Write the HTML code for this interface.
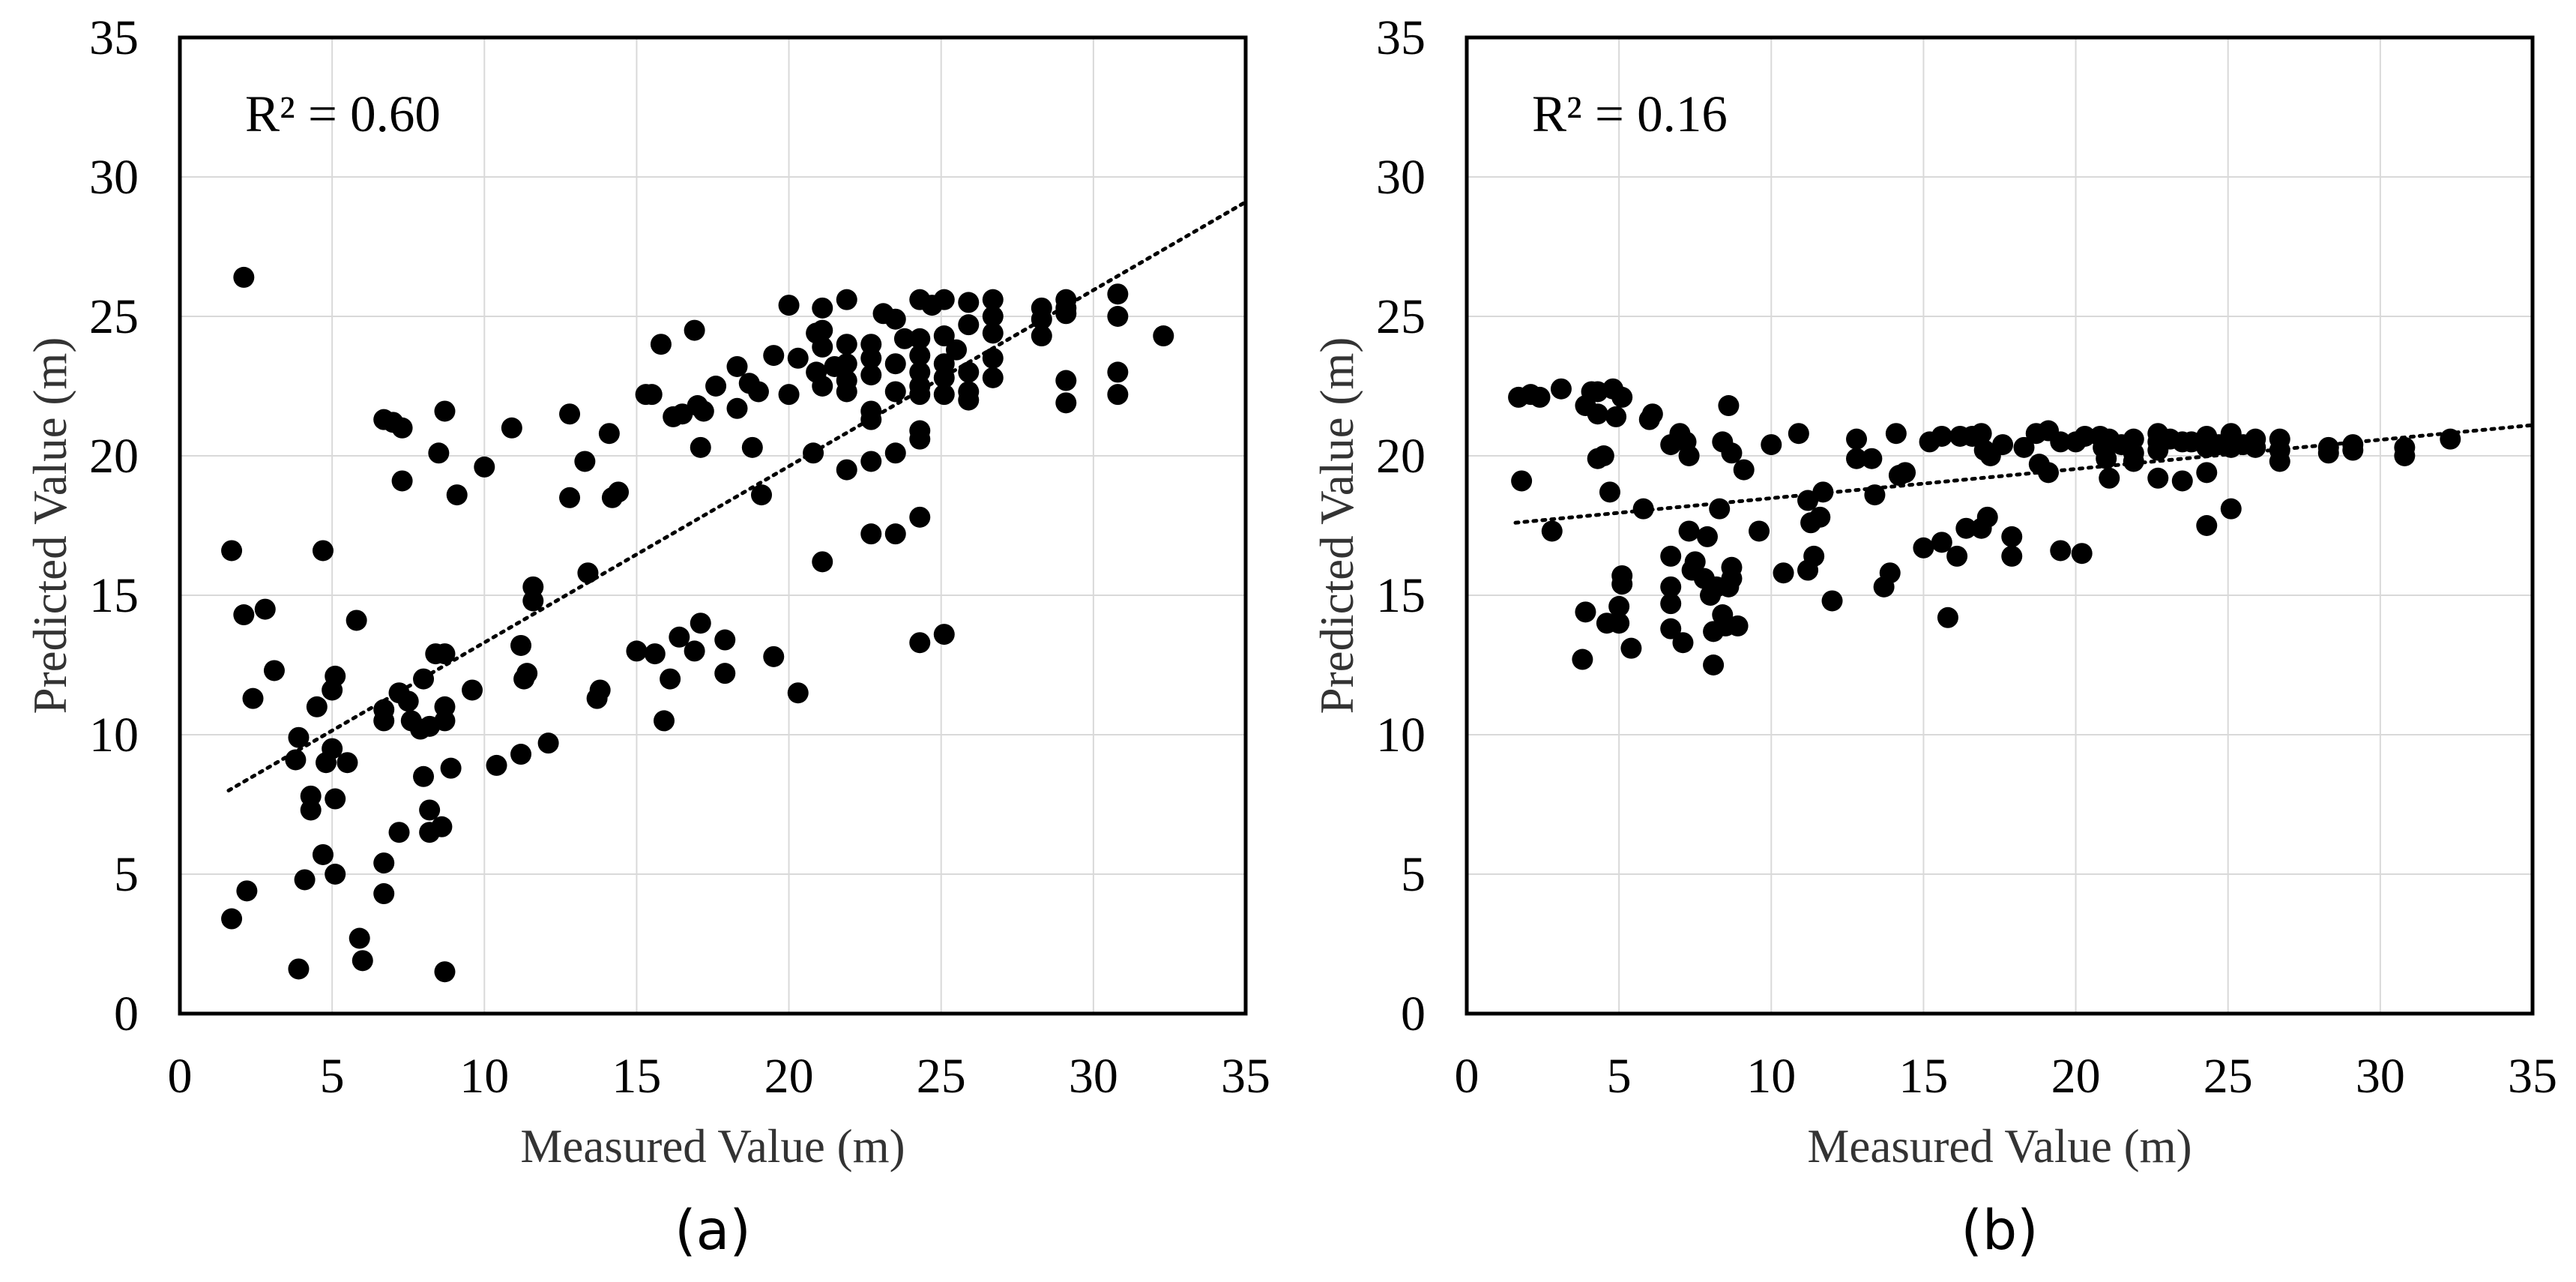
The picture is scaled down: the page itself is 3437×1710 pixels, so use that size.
<!DOCTYPE html>
<html><head><meta charset="utf-8"><style>
html,body{margin:0;padding:0;background:#fff;}
svg{display:block;font-family:"Liberation Serif",serif;}
</style></head><body>
<svg id="fig" width="3437" height="1710" viewBox="0 0 3437 1710" xmlns="http://www.w3.org/2000/svg"></svg>
<script>
const ticks=[0,5,10,15,20,25,30,35];
const aX=[1.7,2.2,1.7,2.1,2.1,2.4,2.8,3.1,3.8,3.9,3.9,4.1,4.3,4.3,4.5,4.7,4.7,4.8,5.0,5.0,5.1,5.1,5.1,5.5,5.8,5.9,6.0,6.7,6.7,6.7,6.7,6.7,7.0,7.2,7.2,7.3,7.3,7.5,7.6,7.9,8.0,8.0,8.2,8.2,8.2,8.4,8.5,8.6,8.7,8.7,8.7,8.7,8.7,8.9,9.1,9.6,10.0,10.4,10.9,11.2,11.2,11.3,11.4,11.6,11.6,12.1,12.8,12.8,13.3,13.4,13.7,13.8,14.1,14.2,14.4,15.0,15.3,15.5,15.6,15.8,15.9,16.1,16.2,16.4,16.5,16.9,16.9,17.0,17.1,17.1,17.2,17.6,17.9,17.9,18.3,18.3,18.7,18.8,19.0,19.1,19.5,19.5,20.0,20.0,20.3,20.3,20.8,20.9,20.9,21.1,21.1,21.1,21.1,21.1,21.5,21.9,21.9,21.9,21.9,21.9,21.9,22.7,22.7,22.7,22.7,22.7,22.7,22.7,23.1,23.5,23.5,23.5,23.5,23.5,23.8,24.3,24.3,24.3,24.3,24.3,24.3,24.3,24.3,24.3,24.3,24.7,25.1,25.1,25.1,25.1,25.1,25.1,25.5,25.9,25.9,25.9,25.9,25.9,26.7,26.7,26.7,26.7,26.7,28.3,28.3,28.3,29.1,29.1,29.1,29.1,29.1,30.8,30.8,30.8,30.8,32.3];
const aY=[3.4,4.4,16.6,14.3,26.4,11.3,14.5,12.3,9.1,9.9,1.6,4.8,7.8,7.3,11.0,5.7,16.6,9.0,9.5,11.6,12.1,7.7,5.0,9.0,14.1,2.7,1.9,5.4,4.3,10.5,10.9,21.3,21.2,6.5,11.5,21.0,19.1,11.2,10.5,10.2,8.5,12.0,7.3,6.5,10.3,12.9,20.1,6.7,12.9,11.0,10.5,1.5,21.6,8.8,18.6,11.6,19.6,8.9,21.0,9.3,13.2,12.0,12.2,15.3,14.8,9.7,21.5,18.5,19.8,15.8,11.3,11.6,20.8,18.5,18.7,13.0,22.2,22.2,12.9,24.0,10.5,12.0,21.4,13.5,21.5,13.0,24.5,21.8,14.0,20.3,21.6,22.5,13.4,12.2,23.2,21.7,22.6,20.3,22.3,18.6,12.8,23.6,22.2,25.4,11.5,23.5,20.1,24.4,23.0,25.3,24.5,23.9,22.5,16.2,23.2,25.6,24.0,23.3,22.7,22.3,19.5,24.0,23.5,22.9,21.6,21.3,19.8,17.2,25.1,24.9,23.3,22.3,20.1,17.2,24.2,25.6,24.2,23.6,23.0,22.5,22.2,20.9,20.6,17.8,13.3,25.4,25.6,24.3,23.3,22.8,22.2,13.6,23.8,25.5,24.7,23.0,22.3,22.0,25.6,25.0,24.4,23.5,22.8,25.3,24.9,24.3,25.6,25.3,25.1,22.7,21.9,25.8,25.0,23.0,22.2,24.3];
const bX=[1.7,1.8,2.1,2.4,2.8,3.1,3.8,3.9,3.9,4.1,4.3,4.3,4.3,4.5,4.6,4.7,4.8,4.9,5.0,5.0,5.1,5.1,5.1,5.4,5.8,6.0,6.1,6.7,6.7,6.7,6.7,6.7,7.0,7.1,7.2,7.3,7.3,7.4,7.5,7.8,7.9,8.0,8.1,8.1,8.2,8.3,8.4,8.4,8.5,8.6,8.6,8.7,8.7,8.7,8.9,9.1,9.6,10.0,10.4,10.9,11.2,11.2,11.3,11.4,11.6,11.7,12.0,12.8,12.8,13.3,13.4,13.7,13.9,14.1,14.2,14.4,15.0,15.2,15.6,15.6,15.8,16.1,16.2,16.4,16.6,16.9,16.9,17.0,17.1,17.2,17.6,17.9,17.9,18.3,18.7,18.8,19.1,19.1,19.5,19.5,20.0,20.2,20.3,20.8,20.9,21.0,21.1,21.1,21.5,21.9,21.9,21.9,22.7,22.7,22.7,22.7,23.1,23.5,23.5,23.8,24.3,24.3,24.3,24.3,24.7,25.1,25.1,25.1,25.5,25.9,25.9,26.7,26.7,26.7,28.3,28.3,29.1,29.1,30.8,30.8,32.3];
const bY=[22.1,19.1,22.2,22.1,17.3,22.4,12.7,21.8,14.4,22.3,22.3,21.5,19.9,20.0,14.0,18.7,22.4,21.4,14.6,14.0,22.1,15.7,15.4,13.1,18.1,21.3,21.5,20.4,16.4,15.3,14.7,13.8,20.8,13.3,20.5,20.0,17.3,15.9,16.2,15.6,17.1,15.0,13.7,12.5,15.3,18.1,20.5,14.3,13.9,21.8,15.3,20.1,16.0,15.6,13.9,19.5,17.3,20.4,15.8,20.8,15.9,18.4,17.6,16.4,17.8,18.7,14.8,20.6,19.9,19.9,18.6,15.3,15.8,20.8,19.3,19.4,16.7,20.5,20.7,16.9,14.2,16.4,20.7,17.4,20.7,17.4,20.8,20.2,17.8,20.0,20.4,17.1,16.4,20.3,20.8,19.7,20.9,19.4,16.6,20.5,20.5,16.5,20.7,20.7,20.3,19.9,20.6,19.2,20.4,20.6,20.1,19.8,20.8,20.5,20.2,19.2,20.6,20.5,19.1,20.5,20.7,20.3,19.4,17.5,20.4,20.8,20.3,18.1,20.4,20.6,20.3,20.6,20.2,19.8,20.3,20.1,20.4,20.2,20.3,20.0,20.6];
const aTrend=[[1.6,8.0],[35,29.1]];
const bTrend=[[1.6,17.6],[35,21.1]];
const NS="http://www.w3.org/2000/svg";
const svg=document.getElementById('fig');
function mk(tag,attrs,parent){const e=document.createElementNS(NS,tag);for(const k in attrs)e.setAttribute(k,attrs[k]);(parent||svg).appendChild(e);return e;}
function panel(id,ox,xs,ys,trend,r2,label){
  const L=ox+240,R=ox+1662,T=50,B=1352;
  const sx=v=>L+(v/35)*(R-L), sy=v=>B-(v/35)*(B-T);
  const g=mk('g',{});
  
  
  ticks.forEach(t=>{
    if(t>0&&t<35){
      const gv=mk('line',{x1:sx(t),x2:sx(t),y1:T,y2:B,stroke:'#d9d9d9','stroke-width':2},g);
      
      
      const gh=mk('line',{x1:L,x2:R,y1:sy(t),y2:sy(t),stroke:'#d9d9d9','stroke-width':2},g);
      
      
    }
    const xt=mk('text',{x:sx(t),y:1457,'text-anchor':'middle','font-size':66,fill:'#000'},g);
    xt.textContent=t;
    
    
    const yt=mk('text',{x:L-55,y:sy(t)+22,'text-anchor':'end','font-size':66,fill:'#000'},g);
    yt.textContent=t;
    
    
  });
  const fr=mk('rect',{x:L,y:T,width:R-L,height:B-T,fill:'none',stroke:'#000','stroke-width':5},g);
  
  
  const tl=mk('line',{x1:sx(trend[0][0]),y1:sy(trend[0][1]),x2:sx(trend[1][0]),y2:sy(trend[1][1]),stroke:'#000','stroke-width':5,'stroke-dasharray':'4 8','stroke-linecap':'round'},g);
  
  
  xs.forEach((x,i)=>{
    const c=mk('circle',{cx:sx(x),cy:sy(ys[i]),r:14,fill:'#000'},g);
    
    
  });
  const rt=mk('text',{x:L+87,y:175,'font-size':69,fill:'#000'},g);
  rt.textContent=r2;
  
  
  const xa=mk('text',{x:(L+R)/2,y:1550,'text-anchor':'middle','font-size':63,fill:'#333'},g);
  xa.textContent='Measured Value (m)';
  
  
  const ya=mk('text',{x:0,y:0,'text-anchor':'middle','font-size':63,fill:'#333',transform:'translate('+(ox+88)+','+((T+B)/2)+') rotate(-90)'},g);
  ya.textContent='Predicted Value (m)';
  
  
  const pl=mk('text',{x:(L+R)/2,y:1666,'text-anchor':'middle','font-size':73,fill:'#000','font-family':'"DejaVu Sans","Liberation Sans",sans-serif'},g);
  pl.textContent=label;
  
  
}
panel('a',0,aX,aY,aTrend,'R² = 0.60','(a)');
panel('b',1717,bX,bY,bTrend,'R² = 0.16','(b)');
</script>
</body></html>
